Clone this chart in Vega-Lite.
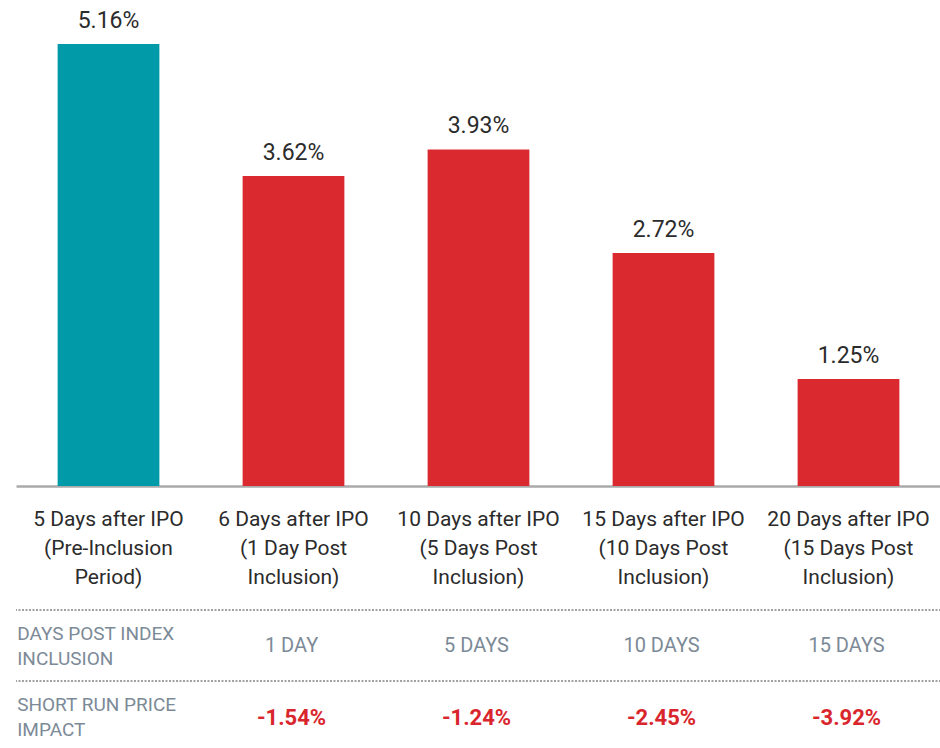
{
  "$schema": "https://vega.github.io/schema/vega-lite/v6.json",
  "padding": {"left": 15, "top": 0, "right": 0, "bottom": 0},
  "background": "white",
  "config": {"view": {"stroke": null}, "font": "Roboto"},
  "spacing": 22,
  "resolve": {"scale": {"x": "independent"}},
  "datasets": {
    "bars": [
      {"cat": "5 Days after IPO|(Pre-Inclusion|Period)", "value": 5.16, "label": "5.16%", "group": "pre"},
      {"cat": "6 Days after IPO|(1 Day Post|Inclusion)", "value": 3.62, "label": "3.62%", "group": "post"},
      {"cat": "10 Days after IPO|(5 Days Post|Inclusion)", "value": 3.93, "label": "3.93%", "group": "post"},
      {"cat": "15 Days after IPO|(10 Days Post|Inclusion)", "value": 2.72, "label": "2.72%", "group": "post"},
      {"cat": "20 Days after IPO|(15 Days Post|Inclusion)", "value": 1.25, "label": "1.25%", "group": "post"}
    ],
    "table": [
      {"row": "days", "cat": "6 Days after IPO|(1 Day Post|Inclusion)", "text": "1 DAY"},
      {"row": "days", "cat": "10 Days after IPO|(5 Days Post|Inclusion)", "text": "5 DAYS"},
      {"row": "days", "cat": "15 Days after IPO|(10 Days Post|Inclusion)", "text": "10 DAYS"},
      {"row": "days", "cat": "20 Days after IPO|(15 Days Post|Inclusion)", "text": "15 DAYS"},
      {"row": "impact", "cat": "6 Days after IPO|(1 Day Post|Inclusion)", "text": "-1.54%"},
      {"row": "impact", "cat": "10 Days after IPO|(5 Days Post|Inclusion)", "text": "-1.24%"},
      {"row": "impact", "cat": "15 Days after IPO|(10 Days Post|Inclusion)", "text": "-2.45%"},
      {"row": "impact", "cat": "20 Days after IPO|(15 Days Post|Inclusion)", "text": "-3.92%"}
    ],
    "headers": [
      {"row": "days", "cat": "5 Days after IPO|(Pre-Inclusion|Period)", "text": "DAYS POST INDEX|INCLUSION"},
      {"row": "impact", "cat": "5 Days after IPO|(Pre-Inclusion|Period)", "text": "SHORT RUN PRICE|IMPACT"}
    ]
  },
  "vconcat": [
    {
      "width": 925,
      "height": 486,
      "data": {"name": "bars"},
      "encoding": {
        "x": {
          "field": "cat", "type": "nominal", "sort": null, "title": null,
          "scale": {"type": "band", "paddingInner": 0.45, "paddingOuter": 0.225},
          "axis": {
            "labelAngle": 0, "ticks": false, "tickSize": 0,
            "labelExpr": "split(datum.label, '|')",
            "labelFont": "Roboto", "labelFontSize": 21, "labelColor": "#2b2b2b",
            "labelLineHeight": 29, "labelBaseline": "alphabetic", "labelPadding": 39,
            "domainColor": "#aaaaaa", "domainWidth": 2.5, "labelLimit": 300
          }
        },
        "y": {
          "field": "value", "type": "quantitative",
          "scale": {"domain": [0, 5.674], "nice": false},
          "axis": null
        }
      },
      "layer": [
        {
          "mark": {"type": "bar"},
          "encoding": {
            "color": {
              "field": "group", "type": "nominal", "legend": null,
              "scale": {"domain": ["pre", "post"], "range": ["#009aa9", "#da2a30"]}
            }
          }
        },
        {
          "mark": {"type": "text", "font": "Roboto", "fontSize": 23, "color": "#2b2b2b", "baseline": "alphabetic", "dy": -16},
          "encoding": {"text": {"field": "label"}}
        }
      ]
    },
    {
      "width": 925,
      "height": 142,
      "encoding": {
        "x": {
          "field": "cat", "type": "nominal", "title": null, "axis": null,
          "scale": {
            "type": "band",
            "paddingInner": 0, "paddingOuter": 0,
            "domain": [
              "5 Days after IPO|(Pre-Inclusion|Period)",
              "6 Days after IPO|(1 Day Post|Inclusion)",
              "10 Days after IPO|(5 Days Post|Inclusion)",
              "15 Days after IPO|(10 Days Post|Inclusion)",
              "20 Days after IPO|(15 Days Post|Inclusion)"
            ]
          }
        },
        "y": {
          "field": "row", "type": "nominal", "title": null, "axis": null,
          "scale": {"type": "band", "domain": ["days", "impact"], "paddingInner": 0, "paddingOuter": 0}
        }
      },
      "layer": [
        {
          "data": {"name": "headers"},
          "mark": {"type": "rule", "color": "#444444", "strokeWidth": 1, "strokeDash": [2, 1.5]},
          "encoding": {"x": null, "y": {"field": "row", "type": "nominal", "bandPosition": 0}}
        },
        {
          "data": {"name": "headers"},
          "mark": {"type": "text", "font": "Roboto", "fontSize": 19, "color": "#7c8a97", "align": "left", "baseline": "middle", "lineBreak": "|", "lineHeight": 25, "dx": 1, "dy": -12},
          "encoding": {
            "x": {"field": "cat", "type": "nominal", "bandPosition": 0.001},
            "y": {"field": "row", "type": "nominal", "bandPosition": 0.5},
            "text": {"field": "text"}
          }
        },
        {
          "data": {"name": "table"},
          "transform": [{"filter": "datum.row === 'days'"}],
          "mark": {"type": "text", "font": "Roboto", "fontSize": 20, "color": "#7c8a97", "baseline": "middle", "dx": -2},
          "encoding": {
            "y": {"field": "row", "type": "nominal", "bandPosition": 0.5},
            "text": {"field": "text"}
          }
        },
        {
          "data": {"name": "table"},
          "transform": [{"filter": "datum.row === 'impact'"}],
          "mark": {"type": "text", "font": "Roboto", "fontSize": 22, "fontWeight": "bold", "color": "#d9262d", "baseline": "middle", "dy": 1, "dx": -2},
          "encoding": {
            "y": {"field": "row", "type": "nominal", "bandPosition": 0.5},
            "text": {"field": "text"}
          }
        }
      ]
    }
  ]
}
